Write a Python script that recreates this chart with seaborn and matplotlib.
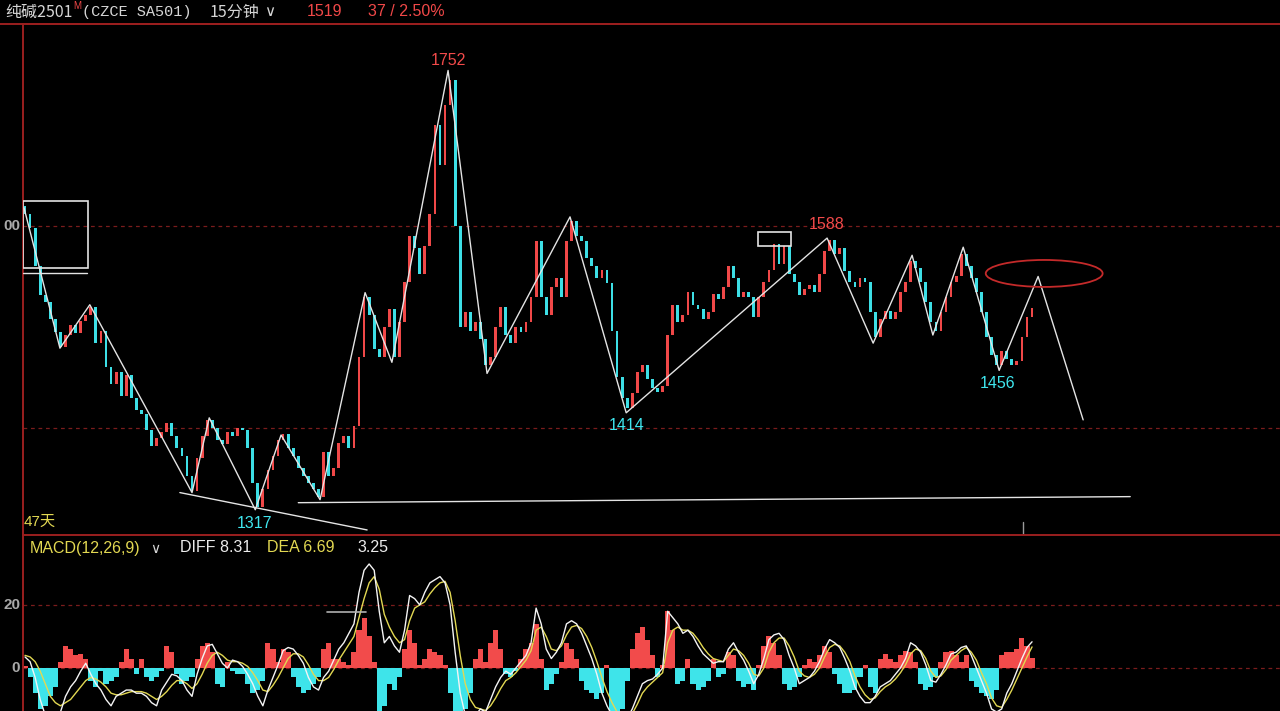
import numpy as np
import pandas as pd
import matplotlib
matplotlib.use("Agg")
import matplotlib.pyplot as plt
import seaborn as sns
from matplotlib.patches import Rectangle, Ellipse
from matplotlib.lines import Line2D

# ── data (15-min bars, SA501) ────────────────────────────────────────────────
first_open = 1620
closes = [
    1612, 1598, 1560, 1532, 1525, 1508, 1495, 1480, 1492, 1502,
    1494, 1506, 1512, 1520, 1484, 1496, 1460, 1444, 1455, 1432,
    1452, 1430, 1418, 1414, 1398, 1382, 1390, 1396, 1405, 1392,
    1380, 1372, 1352, 1338, 1370, 1392, 1408, 1400, 1388, 1384,
    1396, 1392, 1400, 1398, 1380, 1345, 1322, 1340, 1358, 1372,
    1388, 1394, 1380, 1372, 1360, 1352, 1345, 1340, 1332, 1376,
    1352, 1360, 1385, 1392, 1380, 1402, 1470, 1530, 1512, 1478,
    1470, 1500, 1518, 1470, 1505, 1545, 1590, 1578, 1552, 1580,
    1612, 1700, 1660, 1720, 1745, 1600, 1500, 1515, 1496, 1505,
    1488, 1462, 1470, 1500, 1520, 1492, 1484, 1500, 1495, 1505,
    1530, 1585, 1530, 1512, 1540, 1548, 1530, 1585, 1605, 1590,
    1585, 1568, 1560, 1548, 1556, 1544, 1496, 1450, 1430, 1420,
    1435, 1455, 1462, 1448, 1440, 1436, 1442, 1492, 1522, 1505,
    1512, 1535, 1522, 1518, 1508, 1515, 1533, 1528, 1540, 1560,
    1548, 1530, 1535, 1530, 1510, 1530, 1545, 1556, 1582, 1562,
    1580, 1552, 1545, 1532, 1538, 1542, 1535, 1552, 1575, 1586,
    1572, 1578, 1555, 1545, 1540, 1548, 1545, 1515, 1490, 1508,
    1516, 1508, 1515, 1535, 1545, 1565, 1558, 1545, 1525, 1505,
    1496, 1515, 1530, 1545, 1550, 1572, 1560, 1548, 1535, 1515,
    1490, 1472, 1462, 1476, 1468, 1462, 1466, 1490, 1510, 1519,
]

diff = [
    3.5, 2, -3, -10, -15, -18, -17, -14, -9, -6,
    -4, -1, 1.5, -2, -5, -7, -10, -12, -9, -8,
    -7, -7, -8, -8, -9, -11, -12, -7, -4.5, -2,
    -2.5, -4, -7, -9, -2, 3, 7, 7.5, 4.5, 1.5,
    0, 2.5, 2, 0.5, -2, -5, -9, -12, -7, -3,
    1, 5.5, 6.5, 6, 4, 1.5, -3, -6, -7, -3,
    -1, 2.5, 6, 8, 11, 14, 24, 31, 33, 31,
    18, 8, 10, 7, 5, 12, 23, 22, 20, 24,
    27, 28, 29, 27, 20, 5, -8, -15, -16, -15,
    -13, -14, -10, -6, -3, -1, -2, 0, 2, 4,
    8, 19, 14, 6, 3, 5, 8, 14, 15, 14,
    11, 7, 3, -2, -8, -12, -15, -17, -18, -16,
    -13, -9, -5, -4, -3.5, -2, 0, 18, 16, 14,
    11, 12, 10, 7, 4.5, 3, 1.5, 2, 2, 6,
    8, 5, 2.5, -1, -5, -2, 3, 9, 10.5, 11,
    9, 4, 0, -5, -4, -3, -1, 2, 6, 9,
    8, 6.5, 3, -1, -6, -9, -11, -11, -9, -6,
    -5, -4, -2, 0, 3, 8, 7, 5, 1, -4,
    -4.5, -2, 1, 4.5, 5, 6.5, 7, 4, 0, -4,
    -8, -13, -14, -13, -8, -5, -1, 3, 6.5, 8.31,
]

dea = [
    4, 3.5, 2, -1, -5, -9, -11, -12, -11, -10,
    -8, -6, -4, -3, -3.5, -4.5, -6, -8, -8.5, -8.5,
    -8, -7.5, -7.5, -7.5, -8, -9, -10, -9, -7.5, -5.5,
    -4, -4, -5, -6.5, -5, -2, 1.5, 4, 5, 4,
    2.5, 2, 2, 1.5, 0.5, -1.5, -4, -7, -7.5, -5.5,
    -3, 0, 3, 4.5, 4.5, 3.5, 1, -2, -4, -4,
    -3, -0.5, 2.5, 5, 7.5, 10, 16, 22, 27, 29,
    25, 17, 13, 10, 8, 9, 15, 19, 20, 21,
    23.5, 25.5, 27, 27.5, 24, 15, 4, -5, -10, -12.5,
    -13, -13.5, -12, -9.5, -6.5, -4, -3, -1.5, 0.5, 2.5,
    5.5, 12, 13, 10, 6, 5.5, 7, 10.5, 13, 13.5,
    12.5, 10, 6.5, 2, -3, -7.5, -11, -14, -16, -16,
    -14.5, -11.5, -8, -6, -4.5, -3, -1.5, 8, 12, 13,
    12, 12, 11, 9, 6.5, 4.5, 3, 2.5, 2, 4,
    6, 5.5, 4, 1.5, -2, -2.5, 0, 5, 8, 9.5,
    9.5, 7, 3.5, -1, -2.5, -3, -2, 0, 3.5, 6.5,
    7.5, 7, 5, 2, -2.5, -6, -8.5, -10, -9.5, -7.5,
    -6, -5, -3.5, -1.5, 1, 4.5, 6, 5.5, 3, -1,
    -3, -2.5, -0.5, 2.5, 4, 5.5, 6.5, 5, 2.5, -1.5,
    -5, -9.5, -12, -12.5, -10, -7, -3.5, 0, 3.5, 6.69,
]

macd_bar = [
    0.5, -3, -8, -13, -12, -9, -6, 2, 7, 6,
    4, 4.5, 3, -4, -6, -1, -5, -4, -3, 2,
    6, 3, -2, 3, -3, -4, -3, -1, 7, 5,
    -2, -5, -4, -3, 3, 7, 8, 5, -5, -6,
    2, -1, -2, -2, -5, -8, -7, -4, 8, 6,
    2, 6, 5, -3, -6, -8, -7, -5, -3, 6,
    8, 3, 3, 2, 1, 5, 12, 16, 10, 2,
    -14, -12, -5, -7, -3, 6, 12, 8, 1, 3,
    6, 5, 4, 1, -8, -14, -14, -13, -8, 3,
    6, 2, 8, 12, 6, -2, -3, -1, 3, 6,
    8, 14, 3, -7, -5, -2, 2, 8, 6, 3,
    -4, -7, -8, -10, -8, 1, -13.6, -14, -13, -4,
    6, 11, 13, 9, 4, -3, 1, 18, 12, -5,
    -4, 3, -5, -7, -6, -4, 3, -3, -2, 5,
    4, -4, -6, -5, -7, 1, 7, 10, 8, 4,
    -5, -7, -6, -3, 1, 3, 2, 4, 7, 5,
    -2, -5, -8, -8, -7, -3, 1, -6, -8, 3,
    4.5, 3, 2, 4, 5.5, 5, 2, -5, -7, -6,
    -3, 2, 5, 5.5, 4, 2, 4, -4, -6, -8,
    -9, -10, -7, 4, 5, 5, 6, 9.5, 7, 3.25,
]

# hand-drawn zigzag (bar index, price), last leg is the projection
zz_idx = [-0.2, 6.9, 12.8, 33.0, 36.4, 45.5, 50.6, 58.3, 67.2, 72.5, 83.6,
          91.3, 107.7, 118.8, 158.5, 167.6, 175.3, 179.4, 185.4, 192.5, 200.2, 209.1]
zz_price = [1618, 1479, 1522, 1336, 1410, 1319, 1393, 1329, 1534, 1465, 1754,
            1454, 1609, 1415, 1588, 1484, 1571, 1492, 1579, 1457, 1550, 1408]

high_labels = ["1752", "1588"]
high_idx = [83.6, 158.5]
high_price = [1764, 1601]
low_labels = ["1414", "1317", "1456"]
low_idx = [118.8, 45.3, 192.1]
low_price = [1402, 1305, 1444]

support_idx = [30.6, 67.6]
support_price = [1336, 1299]
base_idx = [54.0, 218.4]
base_price = [1326, 1332]

# ── style ────────────────────────────────────────────────────────────────────
BG = "black"
FRAME = "#9b1f1f"
GRID = "#7a1c1c"
UP = "#f04848"
DOWN = "#3ddfe6"
WHITE = "#e4e4e4"
YELLOW = "#e2d852"
W, H = 1280, 711

sns.set_style("dark", {"axes.facecolor": BG, "figure.facecolor": BG})
plt.rcParams["font.family"] = ["Liberation Sans", "Noto Sans CJK SC", "DejaVu Sans"]

df = pd.DataFrame({"close": closes})
df["idx"] = np.arange(len(df))
df["open"] = df["close"].shift(1).fillna(first_open)
df["up"] = df["close"] >= df["open"]

fig = plt.figure(figsize=(W / 100, H / 100), dpi=100)
fig.patch.set_facecolor(BG)

ax = fig.add_axes([23 / W, 1 - 535 / H, (W - 23) / W, (535 - 24) / H])
ax2 = fig.add_axes([23 / W, 0, (W - 23) / W, (H - 535) / H])

for a in (ax, ax2):
    a.set_facecolor(BG)
    a.set_xlim(-0.4, 248.0)
    a.set_xticks([])
    a.set_yticks([])
    a.grid(False)
    for s in a.spines.values():
        s.set_visible(False)
    a.spines["left"].set_visible(True)
    a.spines["left"].set_color(FRAME)
    a.spines["left"].set_linewidth(1.4)
    a.spines["top"].set_visible(True)
    a.spines["top"].set_color(FRAME)
    a.spines["top"].set_linewidth(1.4)

ax.set_ylim(1294, 1800)
ax2.set_ylim(-13.65, 42.2)

# ── price panel ──────────────────────────────────────────────────────────────
for lvl in (1600, 1400):
    ax.axhline(lvl, color=GRID, lw=0.9, ls=(0, (3, 3)), zorder=1)

colors = np.where(df["up"], UP, DOWN)
ax.bar(df["idx"], df["close"] - df["open"], bottom=df["open"], width=0.55,
       color=colors, linewidth=0, zorder=2)

sns.lineplot(x=zz_idx, y=zz_price, ax=ax, sort=False, estimator=None,
             color=WHITE, lw=1.0, zorder=4)
ax.plot(support_idx, support_price, color=WHITE, lw=1.0, zorder=4)
ax.plot(base_idx, base_price, color=WHITE, lw=1.0, zorder=4)

ax.add_patch(Rectangle((-0.4, 1558), 12.8, 67, fill=False, ec=WHITE, lw=1.2, zorder=4))
ax.plot([-0.4, 12.2], [1553, 1553], color=WHITE, lw=1.0, zorder=4)
ax.add_patch(Rectangle((144.9, 1580), 6.5, 14, fill=False, ec=WHITE, lw=1.2, zorder=4))
ax.add_patch(Ellipse((201.4, 1553), 23.1, 26.7, fill=False, ec="#c42a2a", lw=1.3, zorder=4))
ax.plot([197.2, 197.2], [1294, 1307], color="#9a9a9a", lw=1.0, zorder=4)

for t, x, y in zip(high_labels, high_idx, high_price):
    ax.text(x, y, t, color="#f24a4a", fontsize=11.5, ha="center", va="center")
for t, x, y in zip(low_labels, low_idx, low_price):
    ax.text(x, y, t, color="#3fe6ee", fontsize=11.5, ha="center", va="center")
ax.text(-0.2, 1307, "47天", color=YELLOW, fontsize=11, ha="left", va="center")

# ── MACD panel ───────────────────────────────────────────────────────────────
for lvl in (20, 0):
    ax2.axhline(lvl, color=GRID, lw=0.9, ls=(0, (3, 3)), zorder=1)

bar_colors = np.where(np.array(macd_bar) >= 0, "#f24b4b", "#3ee4ea")
ax2.bar(df["idx"], macd_bar, width=1.0, color=bar_colors, linewidth=0, zorder=2)
sns.lineplot(x=df["idx"], y=dea, ax=ax2, color=YELLOW, lw=1.0, zorder=3)
sns.lineplot(x=df["idx"], y=diff, ax=ax2, color="#f4f4f4", lw=1.0, zorder=4)
ax2.plot([59.7, 67.4], [17.8, 17.8], color="#b0b0b0", lw=1.2, zorder=4)

# ── header and labels (figure pixels) ────────────────────────────────────────
def fx(px):
    return px / W


def fy(py):
    return 1 - py / H


fig.add_artist(Line2D([0, 1], [fy(23.5), fy(23.5)], color=FRAME, lw=1.4))

hdr = dict(va="center", fontsize=11.5)
fig.text(fx(5), fy(12), "纯碱2501", color="#d6d6d6",
         family=["Noto Sans CJK SC", "DejaVu Sans"], **hdr)
fig.text(fx(73), fy(6), "M", color="#f04848", fontsize=7, va="center")
fig.text(fx(82), fy(12), "(CZCE SA501)", color="#d6d6d6", family="Liberation Mono",
         va="center", fontsize=11)
fig.text(fx(210), fy(12), "15分钟", color="#d6d6d6",
         family=["Noto Sans CJK SC", "DejaVu Sans"], **hdr)
fig.text(fx(264), fy(12), "∨", color="#d6d6d6", family="DejaVu Sans", va="center", fontsize=11)
fig.text(fx(307), fy(12), "1519", color="#f04848", **hdr)
fig.text(fx(368), fy(12), "37 / 2.50%", color="#f04848", **hdr)

fig.text(fx(30), fy(548), "MACD(12,26,9)", color=YELLOW, va="center", fontsize=11.5)
fig.text(fx(150), fy(549), "∨", color="#d6d6d6", family="DejaVu Sans", va="center", fontsize=10)
fig.text(fx(180), fy(548), "DIFF 8.31", color="#ececec", va="center", fontsize=11.5)
fig.text(fx(267), fy(548), "DEA 6.69", color=YELLOW, va="center", fontsize=11.5)
fig.text(fx(357), fy(548), "3.25", color="#ececec", va="center", fontsize=11.5)

# left scale labels are partly hidden behind the frame in the screenshot
axis_lbl = dict(color="#a8a8a8", fontsize=11, fontweight="bold", ha="right", va="center")
fig.text(fx(20), fy(226), "00", **axis_lbl)
fig.text(fx(20), fy(605), "20", **axis_lbl)
fig.text(fx(20), fy(668), "0", **axis_lbl)

fig.savefig("out.png", dpi=100, facecolor=BG)
